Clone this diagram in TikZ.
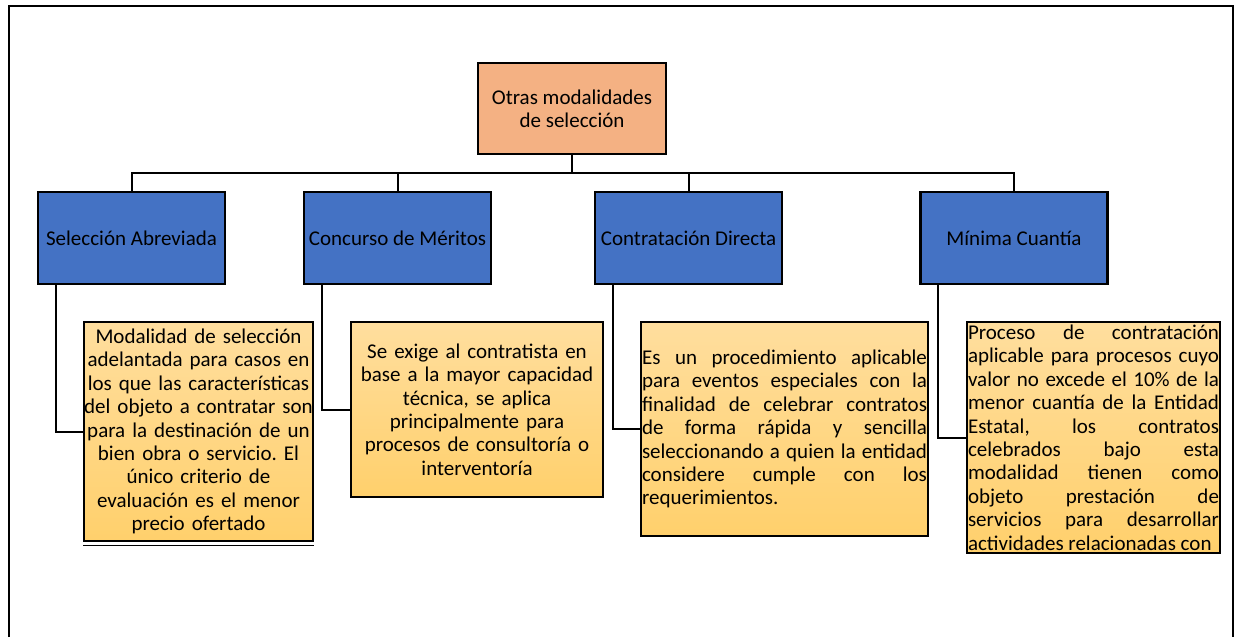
\documentclass[tikz,border=0pt]{standalone}
\usepackage{fontspec}
\setmainfont{Carlito}
\frenchspacing
\usetikzlibrary{positioning}

\definecolor{rootorange}{HTML}{F4B183}
\definecolor{modblue}{HTML}{4472C4}
\definecolor{goldtop}{HTML}{FFDE9E}
\definecolor{goldbot}{HTML}{FFD06C}

\tikzset{
  box/.style={draw=black, line width=2.5pt, inner sep=2pt, font=\fontsize{21}{23.4}\selectfont},
  rootbox/.style={box, fill=rootorange, minimum width=188pt, minimum height=91pt, align=center},
  modbox/.style={box, fill=modblue, minimum width=187pt, minimum height=92pt, inner xsep=0pt},
  descbox/.style={box, line width=2pt, top color=goldtop, bottom color=goldbot,
    inner xsep=1pt, execute at begin node={\hyphenpenalty=10000}},
  link/.style={line width=2pt},
}

\begin{document}
\begin{tikzpicture}[x=1pt,y=-1pt]
\useasboundingbox (0,0) rectangle (1238,637);

% outer frame
\draw[line width=1.3pt] (9,637) |- (1233,6) -- (1233,637);

\node[rootbox] (root) at (572,108.5) {Otras modalidades\\de selección};

\node[modbox] (sa) at (131.5,238) {Selección Abreviada};
\node[modbox] (cm) at (397.5,238) {Concurso de Méritos};
\node[modbox] (cd) at (688.5,238) {Contratación Directa};
\node[modbox] (mc) at (1014,238) {Mínima Cuantía};

\node[descbox, text width=229pt, inner xsep=0pt, minimum height=219pt, align=center] (dsa) at (198.5,431.5)
  {Modalidad de selección\\adelantada para casos en\\los que las características\\del objeto a contratar son\\para la destinación de un\\bien obra o servicio. El\\único criterio de\\evaluación es el menor\\precio ofertado};
\draw[line width=1pt] ([yshift=-3pt]dsa.south west) -- ([yshift=-3pt]dsa.south east);

\node[descbox, text width=250pt, minimum height=175pt, align=center] (dcm) at (477,409.5)
  {Se exige al contratista en\\base a la mayor capacidad\\técnica, se aplica\\principalmente para\\procesos de consultoría o\\interventoría};

\node[descbox, text width=285pt, minimum height=214pt, align=justify] (dcd) at (784.5,429)
  {Es un procedimiento aplicable\linebreak para eventos especiales con la\linebreak finalidad de celebrar contratos\linebreak de forma rápida y sencilla\linebreak seleccionando a quien la entidad\linebreak considere cumple con los\linebreak requerimientos.};

\node[descbox, text width=251pt, minimum height=231pt, inner ysep=0pt, align=justify] (dmc) at (1093.5,437.5)
  {\parfillskip=0pt Proceso de contratación\linebreak aplicable para procesos cuyo\linebreak valor no excede el 10\% de la\linebreak menor cuantía de la Entidad\linebreak Estatal, los contratos\linebreak celebrados bajo esta\linebreak modalidad tienen como\linebreak objeto prestación de\linebreak servicios para desarrollar\linebreak actividades relacionadas con};

% tree links
\coordinate (bus) at (572,173);
\draw[link] (root.south) -- (bus);
\foreach \m in {sa,cm,cd,mc}
  \draw[link] (\m.north) |- (bus);

\foreach \m in {sa,cm,cd,mc}
  \draw[link] ([xshift=19pt]\m.south west) |- (d\m.west);

\end{tikzpicture}
\end{document}
